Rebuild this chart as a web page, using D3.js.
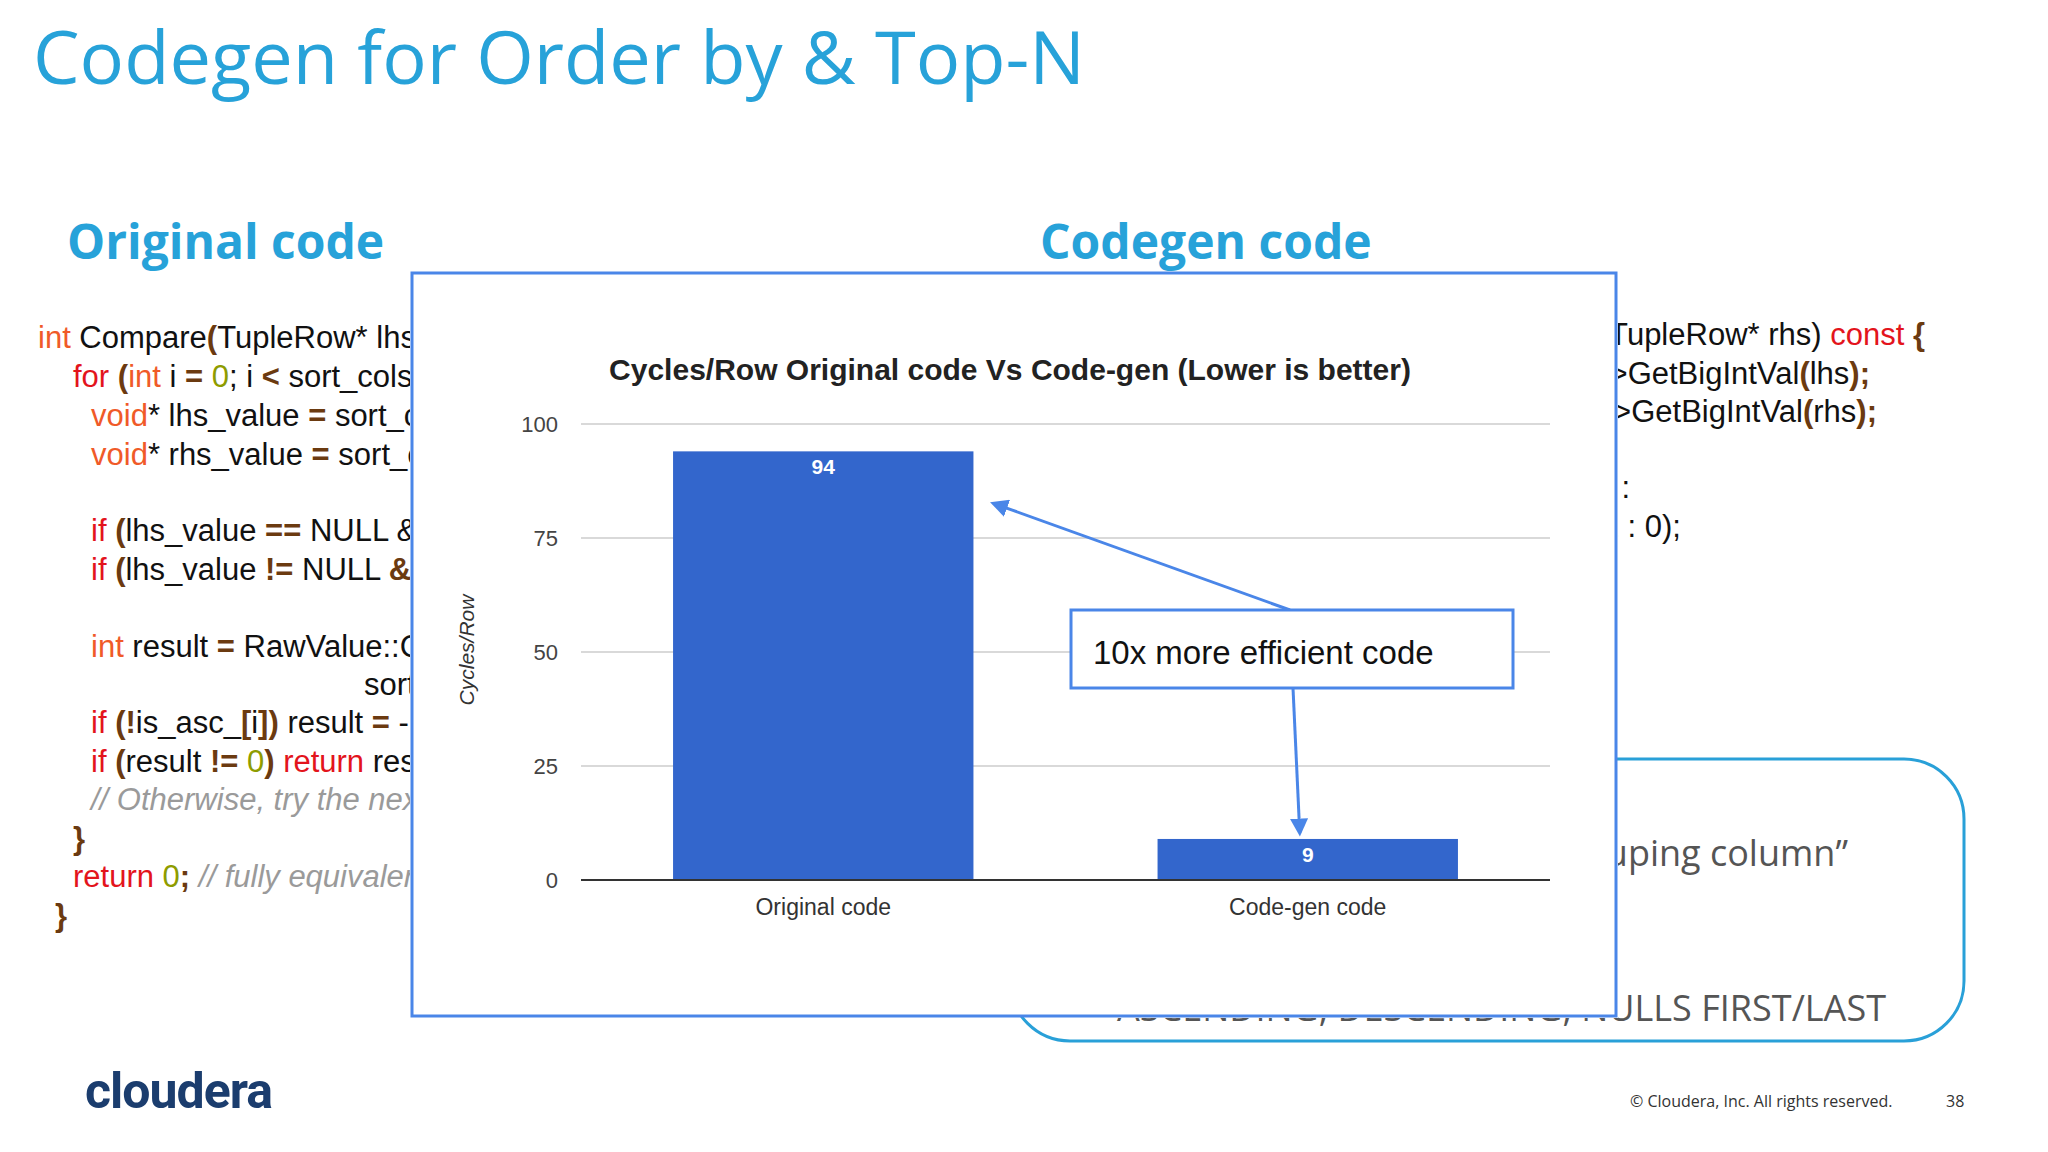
<!DOCTYPE html>
<html><head><meta charset="utf-8">
<script src="https://cdn.jsdelivr.net/npm/d3@7"></script>
<style>body{margin:0;background:#fff}</style>
</head><body>
<script>
// Data
const categories = ["Original code", "Code-gen code"];
const cyclesPerRow = [94, 9];
const yTicks = [0, 25, 50, 75, 100];

const W = 2048, H = 1152;
const svg = d3.select("body").append("svg").attr("width", W).attr("height", H)
  .style("font-family", "Liberation Sans, Arial, sans-serif");

const defs = svg.append("defs");
defs.append("clipPath").attr("id", "clipL").append("rect").attr("x", 0).attr("y", 0).attr("width", 410).attr("height", H);
defs.append("clipPath").attr("id", "clipR").append("rect").attr("x", 1618).attr("y", 0).attr("width", 430).attr("height", H);
defs.append("clipPath").attr("id", "clipB").append("path")
  .attr("d", `M0,0H${W}V${H}H0Z M410,271V1018H1618V271Z`).attr("clip-rule", "evenodd");

// Slide title and headers
svg.append("text").attr("x", 33).attr("y", 84).attr("fill", "#27a2d9")
  .style("font-family", "Open Sans, sans-serif").style("font-size", "74px")
  .text("Codegen for Order by & Top-N");
svg.append("text").attr("x", 67).attr("y", 259).attr("fill", "#27a2d9")
  .style("font-family", "Open Sans, sans-serif").style("font-size", "48px").style("font-weight", "bold")
  .text("Original code");
svg.append("text").attr("x", 1040).attr("y", 259).attr("fill", "#27a2d9")
  .style("font-family", "Open Sans, sans-serif").style("font-size", "48px").style("font-weight", "bold")
  .text("Codegen code");

// Code colours
const C = {k:"#f05a28", r:"#e3141c", n:"#8e9c00", p:"#6b3a10", c:"#9a9a9a", t:"#111"};
const leftCode = [
  [38, 348, [["int","k"],[" Compare","t"],["(","p"],["TupleRow* lhs, TupleRow* rhs","t"]]],
  [73, 387, [["for ","r"],["(","p"],["int","k"],[" i ","t"],["=","p"],[" ","t"],["0","n"],["; i ","t"],["<","p"],[" sort_cols_.size(); ++i","t"]]],
  [91, 426, [["void","k"],["* lhs_value ","t"],["=","p"],[" sort_cols_[i]->GetValue(lhs);","t"]]],
  [91, 465, [["void","k"],["* rhs_value ","t"],["=","p"],[" sort_cols_[i]->GetValue(rhs);","t"]]],
  [91, 541, [["if ","r"],["(","p"],["lhs_value ","t"],["==","p"],[" NULL && rhs_value != NULL) return -1;","t"]]],
  [91, 580, [["if ","r"],["(","p"],["lhs_value ","t"],["!=","p"],[" NULL ","t"],["&&","p"],[" rhs_value == NULL) return 1;","t"]]],
  [91, 657, [["int","k"],[" result ","t"],["=","p"],[" RawValue::Compare(lhs_value, rhs_value,","t"]]],
  [364, 695, [["sort_cols_[i]->type());","t"]]],
  [91, 733, [["if ","r"],["(","p"],["!","p"],["is_asc_","t"],["[","p"],["i","t"],["])","p"],[" result ","t"],["=","p"],[" -result;","t"]]],
  [91, 772, [["if ","r"],["(","p"],["result ","t"],["!=","p"],[" ","t"],["0","n"],[")","p"],[" return ","r"],["result;","t"]]],
  [91, 810, [["// Otherwise, try the next Expr","c"]]],
  [73, 849, [["}","p"]]],
  [73, 887, [["return ","r"],["0","n"],[";","p"],[" // fully equivalent key","c"]]],
  [55, 926, [["}","p"]]]
];
const codeL = svg.append("g").attr("clip-path", "url(#clipL)").style("font-size", "31px");
leftCode.forEach(([x, y, parts]) => {
  const t = codeL.append("text").attr("x", x).attr("y", y);
  parts.forEach(([s, c]) => t.append("tspan").attr("fill", C[c])
    .style("font-style", c === "c" ? "italic" : null)
    .style("font-weight", c === "p" ? "bold" : null).text(s));
});
const rightCode = [
  [1925, 345, [["int64_t Compare(TupleRow* lhs, TupleRow* rhs) ","t"],["const ","r"],["{","p"]]],
  [1870, 384, [["int64_t lhs_value = sort_expr->","t"],["GetBigIntVal","t"],["(","p"],["lhs","t"],[");","p"]]],
  [1877, 422, [["int64_t rhs_value = sort_expr->","t"],["GetBigIntVal","t"],["(","p"],["rhs","t"],[");","p"]]],
  [1630, 498, [["return lhs_value < rhs_value ? -1 :","t"]]],
  [1681, 537, [["(lhs_value > rhs_value ? 1 : 0);","t"]]]
];
const codeR = svg.append("g").attr("clip-path", "url(#clipR)").style("font-size", "31px");
rightCode.forEach(([x, y, parts]) => {
  const t = codeR.append("text").attr("x", x).attr("y", y).attr("text-anchor", "end");
  parts.forEach(([s, c]) => t.append("tspan").attr("fill", C[c])
    .style("font-weight", c === "p" ? "bold" : null).text(s));
});

// Rounded note box behind chart
svg.append("rect").attr("x", 1010).attr("y", 759).attr("width", 954).attr("height", 282)
  .attr("rx", 60).attr("fill", "none").attr("stroke", "#29a0d8").attr("stroke-width", 3);
const note = svg.append("g").attr("clip-path", "url(#clipB)")
  .style("font-family", "Open Sans, sans-serif").style("font-size", "36px").attr("fill", "#555");
note.append("text").attr("x", 1848).attr("y", 866).attr("text-anchor", "end")
  .text("Sort on each “grouping column”");
note.append("text").attr("x", 1117).attr("y", 1021)
  .text("ASCENDING, DESCENDING, NULLS FIRST/LAST");

// Chart panel
svg.append("rect").attr("x", 412).attr("y", 273).attr("width", 1204).attr("height", 743)
  .attr("fill", "#fff").attr("stroke", "#4a86e8").attr("stroke-width", 3);

const x = d3.scaleBand().domain(categories).range([581, 1550]).paddingInner(0.38).paddingOuter(0.19);
const y = d3.scaleLinear().domain([0, 100]).range([880, 424]);

svg.append("text").attr("x", 1010).attr("y", 380).attr("text-anchor", "middle")
  .style("font-size", "30px").style("font-weight", "bold").attr("fill", "#222")
  .text("Cycles/Row Original code Vs Code-gen (Lower is better)");

svg.append("g").selectAll("line").data(yTicks.slice(1)).join("line")
  .attr("x1", 581).attr("x2", 1550).attr("y1", d => y(d)).attr("y2", d => y(d))
  .attr("stroke", "#ccc").attr("stroke-width", 1.5);
svg.append("g").selectAll("text").data(yTicks).join("text")
  .attr("x", 558).attr("y", d => y(d) + 8).attr("text-anchor", "end")
  .style("font-size", "22px").attr("fill", "#444").text(d => d);

svg.append("text").attr("transform", "translate(474,650) rotate(-90)").attr("text-anchor", "middle")
  .style("font-size", "21px").style("font-style", "italic").attr("fill", "#333").text("Cycles/Row");

svg.append("g").selectAll("rect").data(cyclesPerRow).join("rect")
  .attr("x", (d, i) => x(categories[i])).attr("width", x.bandwidth())
  .attr("y", d => y(d)).attr("height", d => y(0) - y(d)).attr("fill", "#3366cc");
svg.append("g").selectAll("text").data(cyclesPerRow).join("text")
  .attr("x", (d, i) => x(categories[i]) + x.bandwidth() / 2).attr("y", d => y(d) + 23)
  .attr("text-anchor", "middle").attr("fill", "#fff").style("font-weight", "bold")
  .style("font-size", "21px").text(d => d);
svg.append("line").attr("x1", 581).attr("x2", 1550).attr("y1", y(0)).attr("y2", y(0))
  .attr("stroke", "#333").attr("stroke-width", 2);
svg.append("g").selectAll("text").data(categories).join("text")
  .attr("x", d => x(d) + x.bandwidth() / 2).attr("y", 915).attr("text-anchor", "middle")
  .style("font-size", "23px").attr("fill", "#333").text(d => d);

// Annotation
defs.append("marker").attr("id", "ah").attr("viewBox", "0 0 10 10").attr("refX", 8).attr("refY", 5)
  .attr("markerWidth", 6).attr("markerHeight", 6).attr("orient", "auto")
  .append("path").attr("d", "M0,0L10,5L0,10z").attr("fill", "#4a86e8");
const bx = x(categories[1]) + x.bandwidth() / 2;
svg.append("line").attr("x1", 1290).attr("y1", 610).attr("x2", x(categories[0]) + x.bandwidth() + 20).attr("y2", y(cyclesPerRow[0]) + 52)
  .attr("stroke", "#4a86e8").attr("stroke-width", 3).attr("marker-end", "url(#ah)");
svg.append("line").attr("x1", 1293).attr("y1", 688).attr("x2", bx - 8).attr("y2", y(cyclesPerRow[1]) - 6)
  .attr("stroke", "#4a86e8").attr("stroke-width", 3).attr("marker-end", "url(#ah)");
svg.append("rect").attr("x", 1071).attr("y", 610).attr("width", 442).attr("height", 78)
  .attr("fill", "#fff").attr("stroke", "#4a86e8").attr("stroke-width", 3);
svg.append("text").attr("x", 1093).attr("y", 664).style("font-size", "33px").attr("fill", "#111")
  .text("10x more efficient code");

// Footer
svg.append("text").attr("x", 85).attr("y", 1108).attr("fill", "#1b3d6e")
  .style("font-family", "Roboto, sans-serif").style("font-weight", "bold").style("font-size", "50px")
  .style("letter-spacing", "-1px").text("cloudera");
svg.append("text").attr("x", 1630).attr("y", 1107).attr("fill", "#333")
  .style("font-family", "Open Sans, sans-serif").style("font-size", "16px")
  .text("© Cloudera, Inc. All rights reserved.");
svg.append("text").attr("x", 1946).attr("y", 1107).attr("fill", "#333")
  .style("font-family", "Open Sans, sans-serif").style("font-size", "16px").text("38");
</script>
</body></html>
